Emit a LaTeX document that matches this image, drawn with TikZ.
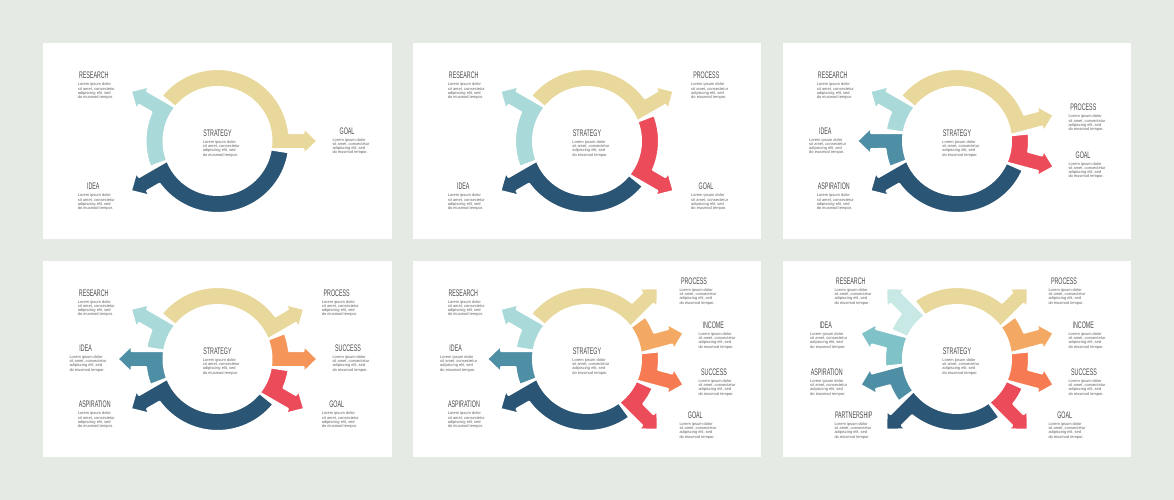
\documentclass[tikz,border=0pt]{standalone}
\usepackage{fontspec}
\setmainfont{Liberation Sans}
\newfontfamily\ttlfont[FakeStretch=0.56]{Liberation Sans}
\usetikzlibrary{calc}
\definecolor{bgc}{HTML}{E6EAE4}
\definecolor{cYel}{HTML}{E9D89B}
\definecolor{cTeal}{HTML}{A9D9D8}
\definecolor{cTealL}{HTML}{C8E8E5}
\definecolor{cTealM}{HTML}{7FC2C8}
\definecolor{cMid}{HTML}{4F8FA5}
\definecolor{cDark}{HTML}{2B5574}
\definecolor{cRed}{HTML}{EC4B59}
\definecolor{cOrg}{HTML}{F5955A}
\definecolor{cInc}{HTML}{F3A964}
\definecolor{cSuc}{HTML}{F67B53}
\definecolor{titlegray}{HTML}{4A4A4A}
\definecolor{bodygray}{HTML}{646464}
\newcommand\ringseg[3]{%
  \pgfmathsetmacro\rsA{#2+9}%
  \pgfmathsetmacro\rsP{\rsA+90}%
  \pgfmathsetmacro\rsM{\rsA-90}%
  \pgfmathsetmacro\rsT{\rsA+6.38}%
  \filldraw[segline, fill=#3] (#2:54) arc[start angle=#2, end angle=#1, radius=54]
    -- (#1:72) arc[start angle=#1, end angle=\rsT, radius=72]
    -- ($(\rsA:86)+(\rsP:8)$) -- ($(\rsA:86)+(\rsP:13.5)$) -- (\rsA:100)
    -- ($(\rsA:86)+(\rsM:13.5)$) -- ($(\rsA:86)+(\rsM:8)$)
    -- ($(\rsA:53.4)+(\rsM:8)$) -- cycle;}
\newcommand\info[5]{%
  \node[ttl] (#1) at (#2,#3) {#5};
  \node[bdy] (#1t) at (#4,{#3+7.1}) {Lorem ipsum dolor\\sit amet, consectetur\\adipiscing elit, sed\\do eiusmod tempor.};}
\begin{document}
\begin{tikzpicture}[x=1pt,y=-1pt,
  segline/.style={draw=white, line width=2pt, line join=round},
  ttl/.style={font=\ttlfont\fontsize{9.5}{9.5}\selectfont, text=titlegray, inner sep=0pt},
  bdy/.style={font=\fontsize{4}{4.2}\selectfont, text=bodygray, align=left, anchor=north west, inner sep=0pt},
  panel/.style={fill=white}]
\useasboundingbox (0,0) rectangle (1174,500);
\fill[bgc] (0,0) rectangle (1174,500);
\fill[panel] (43,43) rectangle (392,239);
\fill[panel] (413,43) rectangle (761,239);
\fill[panel] (783,43) rectangle (1131,239);
\fill[panel] (43,261) rectangle (392,457);
\fill[panel] (413,261) rectangle (761,457);
\fill[panel] (783,261) rectangle (1131,457);
% panel 1
\begin{scope}[shift={(217.5,141)},y=1pt]
  \ringseg{201}{141}{cTeal}
  \ringseg{141}{-9}{cYel}
  \ringseg{-9}{-159}{cDark}
\end{scope}
\info{p1r}{93.8}{75.7}{77.7}{RESEARCH}
\info{p1i}{93.3}{186.7}{77.7}{IDEA}
\info{p1g}{347}{131}{332.3}{GOAL}
\info{p1s}{217.5}{133.3}{202.7}{STRATEGY}
% panel 2
\begin{scope}[shift={(587,141)},y=1pt]
  \ringseg{201}{141}{cTeal}
  \ringseg{141}{21}{cYel}
  \ringseg{21}{-39}{cRed}
  \ringseg{-39}{-159}{cDark}
\end{scope}
\info{p2r}{463.7}{75.7}{447.7}{RESEARCH}
\info{p2p}{706.3}{75.7}{691}{PROCESS}
\info{p2i}{463.3}{186.7}{447.7}{IDEA}
\info{p2g}{706}{186.7}{691}{GOAL}
\info{p2s}{587}{133.3}{572.2}{STRATEGY}
% panel 3
\begin{scope}[shift={(957,141)},y=1pt]
  \ringseg{171}{141}{cTeal}
  \ringseg{141}{6}{cYel}
  \ringseg{6}{-24}{cRed}
  \ringseg{-24}{-159}{cDark}
  \ringseg{201}{171}{cMid}
\end{scope}
\info{p3r}{832.7}{75.7}{816.7}{RESEARCH}
\info{p3i}{825.3}{131}{809}{IDEA}
\info{p3a}{833.8}{186.7}{816.7}{ASPIRATION}
\info{p3p}{1083.3}{107.7}{1068.3}{PROCESS}
\info{p3g}{1083}{155}{1068.3}{GOAL}
\info{p3s}{957}{133.3}{942.2}{STRATEGY}
% panel 4
\begin{scope}[shift={(217.5,359)},y=1pt]
  \ringseg{171}{141}{cTeal}
  \ringseg{141}{21}{cYel}
  \ringseg{21}{-9}{cOrg}
  \ringseg{-9}{-39}{cRed}
  \ringseg{-39}{-159}{cDark}
  \ringseg{201}{171}{cMid}
\end{scope}
\info{p4r}{93.7}{293}{77.7}{RESEARCH}
\info{p4i}{85.7}{348.3}{69.3}{IDEA}
\info{p4a}{94.7}{404.7}{77.7}{ASPIRATION}
\info{p4p}{336.7}{293}{321.7}{PROCESS}
\info{p4su}{348}{348.3}{332.3}{SUCCESS}
\info{p4g}{336.7}{404.7}{321.7}{GOAL}
\info{p4s}{217.5}{351.3}{202.7}{STRATEGY}
% panel 5
\begin{scope}[shift={(587,359)},y=1pt]
  \ringseg{171}{141}{cTeal}
  \ringseg{141}{36}{cYel}
  \ringseg{36}{6}{cInc}
  \ringseg{6}{-24}{cSuc}
  \ringseg{-24}{-54}{cRed}
  \ringseg{-54}{-159}{cDark}
  \ringseg{201}{171}{cMid}
\end{scope}
\info{p5r}{463.3}{293}{447.7}{RESEARCH}
\info{p5i}{455.7}{348.3}{440}{IDEA}
\info{p5a}{464}{404.7}{447.7}{ASPIRATION}
\info{p5p}{694}{281.3}{679.3}{PROCESS}
\info{p5in}{713.3}{325.3}{698.3}{INCOME}
\info{p5su}{714}{372.3}{698.3}{SUCCESS}
\info{p5g}{695.3}{415.3}{679.3}{GOAL}
\info{p5s}{587}{351.3}{572.2}{STRATEGY}
% panel 6
\begin{scope}[shift={(957,359)},y=1pt]
  \ringseg{156}{126}{cTealL}
  \ringseg{126}{36}{cYel}
  \ringseg{36}{6}{cInc}
  \ringseg{6}{-24}{cSuc}
  \ringseg{-24}{-54}{cRed}
  \ringseg{-54}{-144}{cDark}
  \ringseg{216}{186}{cMid}
  \ringseg{186}{156}{cTealM}
\end{scope}
\info{p6r}{850.7}{281.3}{834.3}{RESEARCH}
\info{p6i}{825.7}{325.3}{810}{IDEA}
\info{p6a}{826.7}{372.3}{810}{ASPIRATION}
\info{p6pa}{853.7}{415.3}{834.3}{PARTNERSHIP}
\info{p6p}{1064}{281.3}{1048.3}{PROCESS}
\info{p6in}{1083.3}{325.3}{1068.3}{INCOME}
\info{p6su}{1084}{372.3}{1068.3}{SUCCESS}
\info{p6g}{1064.7}{415.3}{1048.3}{GOAL}
\info{p6s}{957}{351.3}{942.2}{STRATEGY}
\end{tikzpicture}
\end{document}
